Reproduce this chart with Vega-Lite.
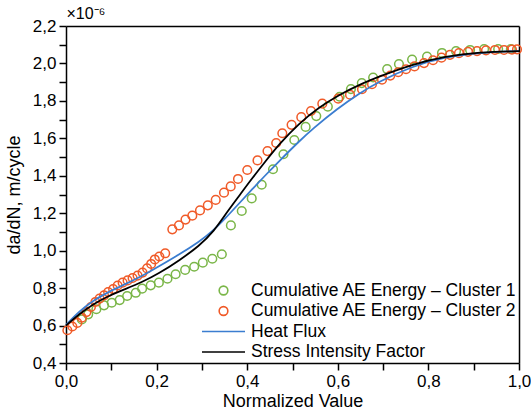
{
  "$schema": "https://vega.github.io/schema/vega-lite/v6.json",
  "width": 453,
  "height": 337,
  "padding": {"left": 5, "top": 5, "right": 0, "bottom": 5},
  "background": "white",
  "config": {"font": "Liberation Sans", "view": {"stroke": null}},
  "datasets": {
    "pts": [
      {"series": "Cumulative AE Energy – Cluster 1", "x": 0.035, "y": 0.633},
      {"series": "Cumulative AE Energy – Cluster 1", "x": 0.049, "y": 0.660},
      {"series": "Cumulative AE Energy – Cluster 1", "x": 0.067, "y": 0.687},
      {"series": "Cumulative AE Energy – Cluster 1", "x": 0.084, "y": 0.708},
      {"series": "Cumulative AE Energy – Cluster 1", "x": 0.101, "y": 0.722},
      {"series": "Cumulative AE Energy – Cluster 1", "x": 0.1185, "y": 0.736},
      {"series": "Cumulative AE Energy – Cluster 1", "x": 0.135, "y": 0.758},
      {"series": "Cumulative AE Energy – Cluster 1", "x": 0.154, "y": 0.775},
      {"series": "Cumulative AE Energy – Cluster 1", "x": 0.168, "y": 0.797},
      {"series": "Cumulative AE Energy – Cluster 1", "x": 0.187, "y": 0.815},
      {"series": "Cumulative AE Energy – Cluster 1", "x": 0.205, "y": 0.829},
      {"series": "Cumulative AE Energy – Cluster 1", "x": 0.224, "y": 0.850},
      {"series": "Cumulative AE Energy – Cluster 1", "x": 0.242, "y": 0.874},
      {"series": "Cumulative AE Energy – Cluster 1", "x": 0.263, "y": 0.897},
      {"series": "Cumulative AE Energy – Cluster 1", "x": 0.283, "y": 0.914},
      {"series": "Cumulative AE Energy – Cluster 1", "x": 0.302, "y": 0.936},
      {"series": "Cumulative AE Energy – Cluster 1", "x": 0.323, "y": 0.957},
      {"series": "Cumulative AE Energy – Cluster 1", "x": 0.344, "y": 0.981},
      {"series": "Cumulative AE Energy – Cluster 1", "x": 0.364, "y": 1.135},
      {"series": "Cumulative AE Energy – Cluster 1", "x": 0.388, "y": 1.212},
      {"series": "Cumulative AE Energy – Cluster 1", "x": 0.410, "y": 1.279},
      {"series": "Cumulative AE Energy – Cluster 1", "x": 0.432, "y": 1.352},
      {"series": "Cumulative AE Energy – Cluster 1", "x": 0.457, "y": 1.435},
      {"series": "Cumulative AE Energy – Cluster 1", "x": 0.480, "y": 1.515},
      {"series": "Cumulative AE Energy – Cluster 1", "x": 0.504, "y": 1.591},
      {"series": "Cumulative AE Energy – Cluster 1", "x": 0.529, "y": 1.661},
      {"series": "Cumulative AE Energy – Cluster 1", "x": 0.5525, "y": 1.719},
      {"series": "Cumulative AE Energy – Cluster 1", "x": 0.578, "y": 1.769},
      {"series": "Cumulative AE Energy – Cluster 1", "x": 0.604, "y": 1.822},
      {"series": "Cumulative AE Energy – Cluster 1", "x": 0.629, "y": 1.863},
      {"series": "Cumulative AE Energy – Cluster 1", "x": 0.653, "y": 1.895},
      {"series": "Cumulative AE Energy – Cluster 1", "x": 0.678, "y": 1.925},
      {"series": "Cumulative AE Energy – Cluster 1", "x": 0.709, "y": 1.970},
      {"series": "Cumulative AE Energy – Cluster 1", "x": 0.735, "y": 1.997},
      {"series": "Cumulative AE Energy – Cluster 1", "x": 0.764, "y": 2.021},
      {"series": "Cumulative AE Energy – Cluster 1", "x": 0.797, "y": 2.037},
      {"series": "Cumulative AE Energy – Cluster 1", "x": 0.830, "y": 2.056},
      {"series": "Cumulative AE Energy – Cluster 1", "x": 0.861, "y": 2.066},
      {"series": "Cumulative AE Energy – Cluster 1", "x": 0.892, "y": 2.072},
      {"series": "Cumulative AE Energy – Cluster 1", "x": 0.923, "y": 2.077},
      {"series": "Cumulative AE Energy – Cluster 1", "x": 0.954, "y": 2.077},
      {"series": "Cumulative AE Energy – Cluster 1", "x": 0.982, "y": 2.077},
      {"series": "Cumulative AE Energy – Cluster 2", "x": 0.003, "y": 0.575},
      {"series": "Cumulative AE Energy – Cluster 2", "x": 0.014, "y": 0.595},
      {"series": "Cumulative AE Energy – Cluster 2", "x": 0.025, "y": 0.614},
      {"series": "Cumulative AE Energy – Cluster 2", "x": 0.035, "y": 0.642},
      {"series": "Cumulative AE Energy – Cluster 2", "x": 0.045, "y": 0.672},
      {"series": "Cumulative AE Energy – Cluster 2", "x": 0.055, "y": 0.699},
      {"series": "Cumulative AE Energy – Cluster 2", "x": 0.065, "y": 0.726},
      {"series": "Cumulative AE Energy – Cluster 2", "x": 0.074, "y": 0.744},
      {"series": "Cumulative AE Energy – Cluster 2", "x": 0.084, "y": 0.761},
      {"series": "Cumulative AE Energy – Cluster 2", "x": 0.093, "y": 0.779},
      {"series": "Cumulative AE Energy – Cluster 2", "x": 0.104, "y": 0.795},
      {"series": "Cumulative AE Energy – Cluster 2", "x": 0.114, "y": 0.814},
      {"series": "Cumulative AE Energy – Cluster 2", "x": 0.125, "y": 0.829},
      {"series": "Cumulative AE Energy – Cluster 2", "x": 0.136, "y": 0.841},
      {"series": "Cumulative AE Energy – Cluster 2", "x": 0.147, "y": 0.854},
      {"series": "Cumulative AE Energy – Cluster 2", "x": 0.158, "y": 0.867},
      {"series": "Cumulative AE Energy – Cluster 2", "x": 0.169, "y": 0.883},
      {"series": "Cumulative AE Energy – Cluster 2", "x": 0.179, "y": 0.905},
      {"series": "Cumulative AE Energy – Cluster 2", "x": 0.188, "y": 0.929},
      {"series": "Cumulative AE Energy – Cluster 2", "x": 0.196, "y": 0.953},
      {"series": "Cumulative AE Energy – Cluster 2", "x": 0.206, "y": 0.969},
      {"series": "Cumulative AE Energy – Cluster 2", "x": 0.219, "y": 0.986},
      {"series": "Cumulative AE Energy – Cluster 2", "x": 0.2347, "y": 1.114},
      {"series": "Cumulative AE Energy – Cluster 2", "x": 0.2494, "y": 1.135},
      {"series": "Cumulative AE Energy – Cluster 2", "x": 0.2638, "y": 1.166},
      {"series": "Cumulative AE Energy – Cluster 2", "x": 0.2788, "y": 1.187},
      {"series": "Cumulative AE Energy – Cluster 2", "x": 0.2958, "y": 1.215},
      {"series": "Cumulative AE Energy – Cluster 2", "x": 0.3130, "y": 1.242},
      {"series": "Cumulative AE Energy – Cluster 2", "x": 0.3305, "y": 1.271},
      {"series": "Cumulative AE Energy – Cluster 2", "x": 0.3488, "y": 1.310},
      {"series": "Cumulative AE Energy – Cluster 2", "x": 0.3636, "y": 1.343},
      {"series": "Cumulative AE Energy – Cluster 2", "x": 0.3797, "y": 1.383},
      {"series": "Cumulative AE Energy – Cluster 2", "x": 0.4002, "y": 1.431},
      {"series": "Cumulative AE Energy – Cluster 2", "x": 0.4227, "y": 1.482},
      {"series": "Cumulative AE Energy – Cluster 2", "x": 0.4448, "y": 1.532},
      {"series": "Cumulative AE Energy – Cluster 2", "x": 0.4640, "y": 1.575},
      {"series": "Cumulative AE Energy – Cluster 2", "x": 0.4775, "y": 1.627},
      {"series": "Cumulative AE Energy – Cluster 2", "x": 0.4980, "y": 1.672},
      {"series": "Cumulative AE Energy – Cluster 2", "x": 0.5194, "y": 1.713},
      {"series": "Cumulative AE Energy – Cluster 2", "x": 0.5408, "y": 1.746},
      {"series": "Cumulative AE Energy – Cluster 2", "x": 0.5658, "y": 1.785},
      {"series": "Cumulative AE Energy – Cluster 2", "x": 0.6009, "y": 1.812},
      {"series": "Cumulative AE Energy – Cluster 2", "x": 0.6269, "y": 1.833},
      {"series": "Cumulative AE Energy – Cluster 2", "x": 0.6534, "y": 1.862},
      {"series": "Cumulative AE Energy – Cluster 2", "x": 0.6755, "y": 1.889},
      {"series": "Cumulative AE Energy – Cluster 2", "x": 0.6976, "y": 1.913},
      {"series": "Cumulative AE Energy – Cluster 2", "x": 0.7159, "y": 1.935},
      {"series": "Cumulative AE Energy – Cluster 2", "x": 0.7333, "y": 1.953},
      {"series": "Cumulative AE Energy – Cluster 2", "x": 0.7506, "y": 1.969},
      {"series": "Cumulative AE Energy – Cluster 2", "x": 0.7693, "y": 1.984},
      {"series": "Cumulative AE Energy – Cluster 2", "x": 0.7903, "y": 2.002},
      {"series": "Cumulative AE Energy – Cluster 2", "x": 0.8102, "y": 2.017},
      {"series": "Cumulative AE Energy – Cluster 2", "x": 0.8289, "y": 2.031},
      {"series": "Cumulative AE Energy – Cluster 2", "x": 0.8477, "y": 2.046},
      {"series": "Cumulative AE Energy – Cluster 2", "x": 0.8675, "y": 2.055},
      {"series": "Cumulative AE Energy – Cluster 2", "x": 0.8874, "y": 2.062},
      {"series": "Cumulative AE Energy – Cluster 2", "x": 0.9073, "y": 2.066},
      {"series": "Cumulative AE Energy – Cluster 2", "x": 0.9272, "y": 2.070},
      {"series": "Cumulative AE Energy – Cluster 2", "x": 0.9470, "y": 2.072},
      {"series": "Cumulative AE Energy – Cluster 2", "x": 0.9669, "y": 2.072},
      {"series": "Cumulative AE Energy – Cluster 2", "x": 0.9845, "y": 2.074},
      {"series": "Cumulative AE Energy – Cluster 2", "x": 0.9956, "y": 2.075}
    ],
    "lines": [
      {"series": "Heat Flux", "x": 0.0, "y": 0.603},
      {"series": "Heat Flux", "x": 0.029, "y": 0.675},
      {"series": "Heat Flux", "x": 0.058, "y": 0.731},
      {"series": "Heat Flux", "x": 0.095, "y": 0.782},
      {"series": "Heat Flux", "x": 0.132, "y": 0.822},
      {"series": "Heat Flux", "x": 0.168, "y": 0.864},
      {"series": "Heat Flux", "x": 0.205, "y": 0.916},
      {"series": "Heat Flux", "x": 0.249, "y": 0.978},
      {"series": "Heat Flux", "x": 0.294, "y": 1.048},
      {"series": "Heat Flux", "x": 0.323, "y": 1.102},
      {"series": "Heat Flux", "x": 0.353, "y": 1.176},
      {"series": "Heat Flux", "x": 0.382, "y": 1.252},
      {"series": "Heat Flux", "x": 0.411, "y": 1.328},
      {"series": "Heat Flux", "x": 0.441, "y": 1.405},
      {"series": "Heat Flux", "x": 0.470, "y": 1.477},
      {"series": "Heat Flux", "x": 0.514, "y": 1.583},
      {"series": "Heat Flux", "x": 0.544, "y": 1.650},
      {"series": "Heat Flux", "x": 0.600, "y": 1.760},
      {"series": "Heat Flux", "x": 0.647, "y": 1.840},
      {"series": "Heat Flux", "x": 0.691, "y": 1.903},
      {"series": "Heat Flux", "x": 0.764, "y": 1.985},
      {"series": "Heat Flux", "x": 0.838, "y": 2.035},
      {"series": "Heat Flux", "x": 0.912, "y": 2.058},
      {"series": "Heat Flux", "x": 1.0, "y": 2.066},
      {"series": "Stress Intensity Factor", "x": 0.0, "y": 0.600},
      {"series": "Stress Intensity Factor", "x": 0.029, "y": 0.660},
      {"series": "Stress Intensity Factor", "x": 0.058, "y": 0.712},
      {"series": "Stress Intensity Factor", "x": 0.095, "y": 0.760},
      {"series": "Stress Intensity Factor", "x": 0.132, "y": 0.796},
      {"series": "Stress Intensity Factor", "x": 0.168, "y": 0.832},
      {"series": "Stress Intensity Factor", "x": 0.205, "y": 0.878},
      {"series": "Stress Intensity Factor", "x": 0.249, "y": 0.946},
      {"series": "Stress Intensity Factor", "x": 0.294, "y": 1.025},
      {"series": "Stress Intensity Factor", "x": 0.327, "y": 1.105},
      {"series": "Stress Intensity Factor", "x": 0.353, "y": 1.198},
      {"series": "Stress Intensity Factor", "x": 0.382, "y": 1.292},
      {"series": "Stress Intensity Factor", "x": 0.411, "y": 1.387},
      {"series": "Stress Intensity Factor", "x": 0.441, "y": 1.479},
      {"series": "Stress Intensity Factor", "x": 0.470, "y": 1.568},
      {"series": "Stress Intensity Factor", "x": 0.514, "y": 1.679},
      {"series": "Stress Intensity Factor", "x": 0.558, "y": 1.765},
      {"series": "Stress Intensity Factor", "x": 0.603, "y": 1.833},
      {"series": "Stress Intensity Factor", "x": 0.647, "y": 1.886},
      {"series": "Stress Intensity Factor", "x": 0.691, "y": 1.930},
      {"series": "Stress Intensity Factor", "x": 0.764, "y": 1.995},
      {"series": "Stress Intensity Factor", "x": 0.838, "y": 2.038},
      {"series": "Stress Intensity Factor", "x": 0.912, "y": 2.060},
      {"series": "Stress Intensity Factor", "x": 1.0, "y": 2.066}
    ]
  },
  "layer": [
    {
      "data": {"name": "pts"},
      "mark": {"type": "point", "filled": false, "strokeWidth": 1.5, "opacity": 1},
      "encoding": {
        "x": {
          "field": "x", "type": "quantitative",
          "scale": {"domain": [0, 1], "nice": false, "zero": false},
          "axis": {
            "orient": "bottom",
            "values": [0, 0.1, 0.2, 0.3, 0.4, 0.5, 0.6, 0.7, 0.8, 0.9, 1.0],
            "labelExpr": "round(datum.value*10)%2==0 ? replace(format(datum.value,'.1f'),'.',',') : ''",
            "title": "Normalized Value",
            "titleFontSize": 18, "titleFontWeight": "normal", "titleColor": "black", "titlePadding": 3,
            "labelFontSize": 17, "labelColor": "black", "labelPadding": 3, "labelFlush": false, "labelOverlap": false,
            "tickColor": "black", "tickWidth": 1.5, "tickSize": 7,
            "domainColor": "black", "domainWidth": 1.5, "grid": false,
            "encode": {"ticks": {"update": {"y2": {"signal": "round(datum.value*10)%2==0 ? 7 : 4"}}}}
          }
        },
        "y": {
          "field": "y", "type": "quantitative",
          "scale": {"domain": [0.4, 2.2], "nice": false, "zero": false},
          "axis": {
            "orient": "left",
            "values": [0.4, 0.5, 0.6, 0.7, 0.8, 0.9, 1.0, 1.1, 1.2, 1.3, 1.4, 1.5, 1.6, 1.7, 1.8, 1.9, 2.0, 2.1, 2.2],
            "labelExpr": "round(datum.value*10)%2==0 ? replace(format(datum.value,'.1f'),'.',',') : ''",
            "title": "da/dN, m/cycle",
            "titleFontSize": 18, "titleFontWeight": "normal", "titleColor": "black", "titlePadding": 9,
            "labelFontSize": 17, "labelColor": "black", "labelPadding": 3, "labelFlush": false, "labelOverlap": false,
            "tickColor": "black", "tickWidth": 1.5, "tickSize": 7,
            "domainColor": "black", "domainWidth": 1.5, "grid": false,
            "encode": {"ticks": {"update": {"x2": {"signal": "round(datum.value*10)%2==0 ? -7 : -4"}}}}
          }
        },
        "color": {
          "field": "series", "type": "nominal",
          "scale": {
            "domain": ["Cumulative AE Energy – Cluster 1", "Cumulative AE Energy – Cluster 2", "Heat Flux", "Stress Intensity Factor"],
            "range": ["#7ab648", "#f05a28", "#3b7dd0", "#000000"]
          },
          "legend": {
            "title": null, "orient": "bottom-right", "offset": 2,
            "labelFontSize": 17.5, "labelColor": "black", "labelLimit": 400, "labelOffset": 5,
            "symbolStrokeWidth": 1.6, "rowPadding": 2.5, "clipHeight": 17
          }
        },
        "shape": {
          "field": "series", "type": "nominal",
          "scale": {
            "domain": ["Cumulative AE Energy – Cluster 1", "Cumulative AE Energy – Cluster 2", "Heat Flux", "Stress Intensity Factor"],
            "range": ["circle", "circle", "stroke", "stroke"]
          },
          "legend": {
            "title": null, "orient": "bottom-right", "offset": 2,
            "labelFontSize": 17.5, "labelColor": "black", "labelLimit": 400, "labelOffset": 5,
            "symbolStrokeWidth": 1.6, "rowPadding": 2.5, "clipHeight": 17
          }
        },
        "size": {
          "field": "series", "type": "nominal",
          "scale": {
            "type": "ordinal",
            "domain": ["Cumulative AE Energy – Cluster 1", "Cumulative AE Energy – Cluster 2", "Heat Flux", "Stress Intensity Factor"],
            "range": [75, 75, 1850, 1850]
          },
          "legend": {
            "title": null, "orient": "bottom-right", "offset": 2,
            "labelFontSize": 17.5, "labelColor": "black", "labelLimit": 400, "labelOffset": 5,
            "symbolStrokeWidth": 1.6, "rowPadding": 2.5, "clipHeight": 17
          }
        }
      }
    },
    {
      "data": {"name": "lines"},
      "mark": {"type": "line", "strokeWidth": 1.8, "interpolate": "basis"},
      "encoding": {
        "x": {
          "field": "x", "type": "quantitative",
          "axis": {
            "orient": "top",
            "values": [0, 0.1, 0.2, 0.3, 0.4, 0.5, 0.6, 0.7, 0.8, 0.9, 1.0],
            "labels": false,
            "title": "×10⁻⁶", "titleAnchor": "start", "titleAlign": "left",
            "titleFontSize": 16, "titleFontWeight": "normal", "titleColor": "black", "titlePadding": 4,
            "tickColor": "black", "tickWidth": 1.5, "tickSize": 0,
            "domainColor": "black", "domainWidth": 1.5, "grid": false,
            "encode": {"ticks": {"update": {"y2": {"signal": "round(datum.value*10)%2==0 ? 6 : 3"}}}}
          }
        },
        "y": {
          "field": "y", "type": "quantitative",
          "axis": {
            "orient": "right",
            "values": [0.4, 0.5, 0.6, 0.7, 0.8, 0.9, 1.0, 1.1, 1.2, 1.3, 1.4, 1.5, 1.6, 1.7, 1.8, 1.9, 2.0, 2.1, 2.2],
            "labels": false, "title": null,
            "tickColor": "black", "tickWidth": 1.5, "tickSize": 0,
            "domainColor": "black", "domainWidth": 1.5, "grid": false,
            "encode": {"ticks": {"update": {"x2": {"signal": "round(datum.value*10)%2==0 ? -6 : -3"}}}}
          }
        },
        "color": {"field": "series", "type": "nominal"}
      }
    }
  ],
  "resolve": {"axis": {"x": "independent", "y": "independent"}}
}
